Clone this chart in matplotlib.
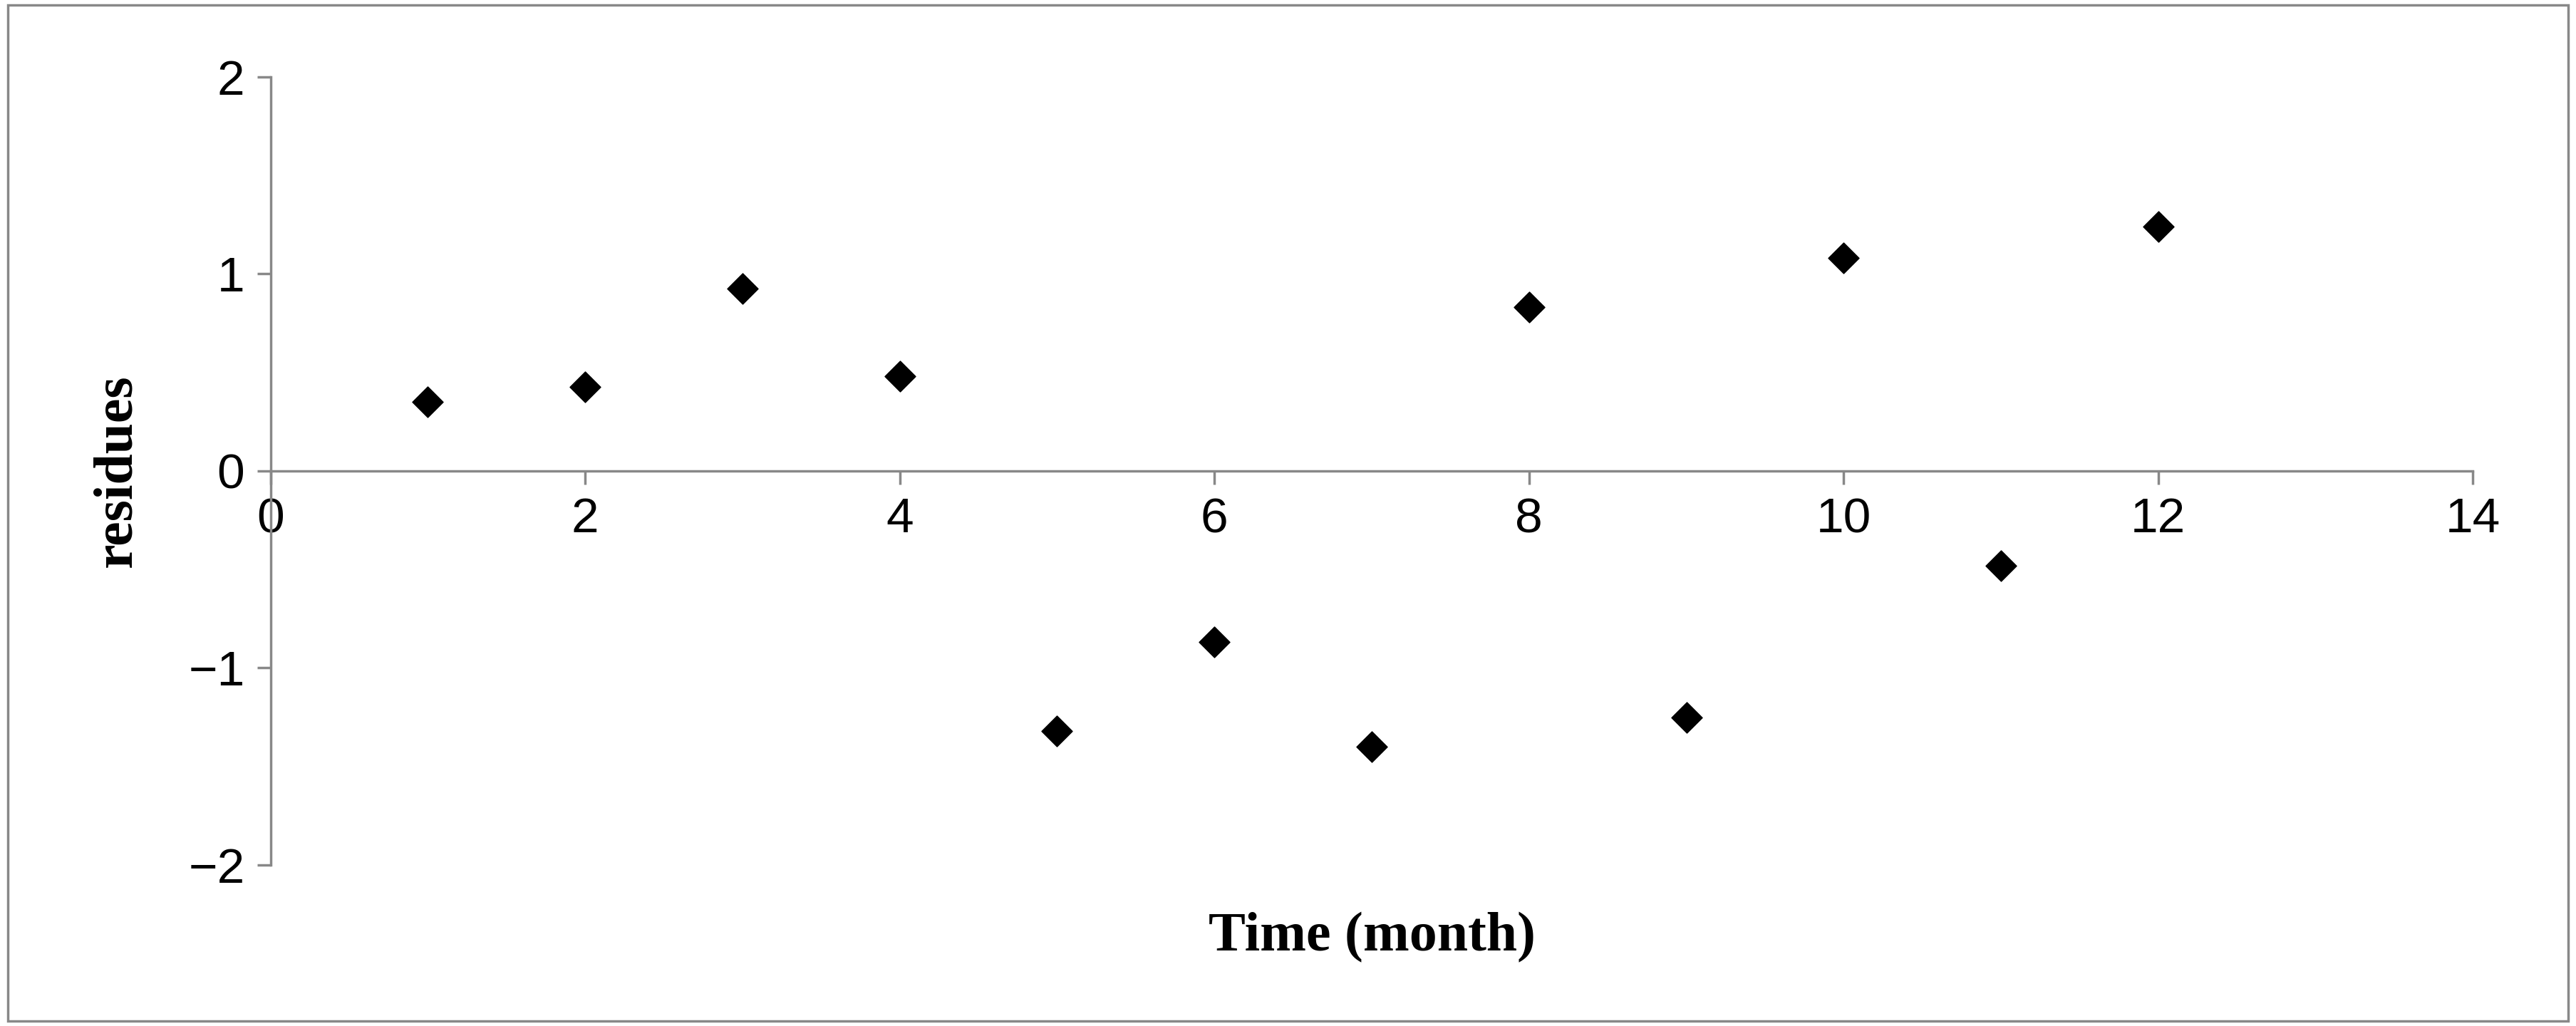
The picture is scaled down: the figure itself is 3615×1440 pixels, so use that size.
import matplotlib
matplotlib.use("Agg")
import matplotlib.pyplot as plt

months = [1, 2, 3, 4, 5, 6, 7, 8, 9, 10, 11, 12]
residues = [0.35, 0.425, 0.925, 0.48, -1.32, -0.87, -1.40, 0.83, -1.25, 1.08, -0.48, 1.24]
xticks = [0, 2, 4, 6, 8, 10, 12, 14]
yticks = [-2, -1, 0, 1, 2]

fig = plt.figure(figsize=(36.15, 14.4), dpi=100)
ax = fig.add_axes([0.105, 0.157, 0.855, 0.768])
ax.scatter(months, residues, marker='D', s=480, color='black', zorder=3)
ax.set_xlim(0, 14)
ax.set_ylim(-2, 2)
ax.set_xticks(xticks)
ax.set_yticks(yticks)
ax.spines['top'].set_visible(False)
ax.spines['right'].set_visible(False)
ax.spines['bottom'].set_position(('data', 0))
for s in ('left', 'bottom'):
    ax.spines[s].set_color('#888888')
    ax.spines[s].set_linewidth(2.5)
ax.tick_params(axis='both', direction='out', length=14, width=2.5, color='#888888',
               labelsize=50, pad=12)
for lab in ax.get_xticklabels() + ax.get_yticklabels():
    lab.set_family('Liberation Sans')
ax.set_xlabel('Time (month)', fontsize=56, fontweight='bold', family='Liberation Serif', labelpad=0)
ax.xaxis.set_label_coords(0.5, -0.06)
ax.set_ylabel('residues', fontsize=56, fontweight='bold', family='Liberation Serif')
ax.yaxis.set_label_coords(-0.058, 0.5)
fig.patches.append(matplotlib.patches.Rectangle((0.003, 0.005), 0.994, 0.99, transform=fig.transFigure,
                   fill=False, edgecolor='#888888', linewidth=2.5))
fig.savefig('out.png', dpi=100)
